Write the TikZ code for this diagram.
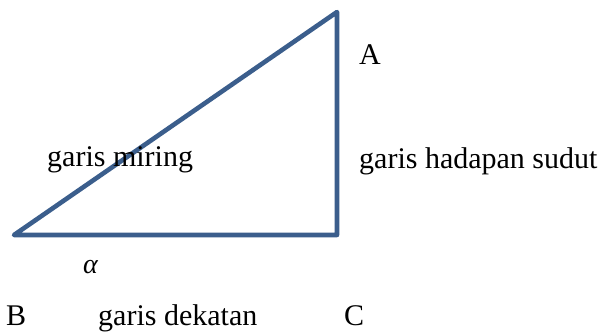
\documentclass[tikz,border=0pt]{standalone}
\usepackage{fontspec}
\setmainfont{Liberation Serif}
\definecolor{tri}{RGB}{59,94,140}
\begin{document}
\begin{tikzpicture}[x=1pt,y=1pt,
  lbl/.style={inner sep=0pt,anchor=base west,font=\fontsize{30}{36}\selectfont},
  edge/.style={draw=tri,line width=4.6pt,line join=round,line cap=round}]
\useasboundingbox (0,0) rectangle (602,-333);
\coordinate (Bv) at (14,-235);
\coordinate (Cv) at (337,-235);
\coordinate (Av) at (337,-12);
\draw[edge] (Bv) -- (Cv) -- (Av) -- cycle;
\node[lbl] (A) at (359,-64) {A};
\node[lbl] (miring) at (47,-166) {garis miring};
\node[lbl] (hadapan) at (359,-168) {garis hadapan sudut};
\node[lbl,font=\fontsize{28}{34}\selectfont\itshape] (alpha) at (83,-273) {α};
\node[lbl] (B) at (6,-325) {B};
\node[lbl] (dekatan) at (98,-325) {garis dekatan};
\node[lbl] (C) at (344,-325) {C};
\end{tikzpicture}
\end{document}
